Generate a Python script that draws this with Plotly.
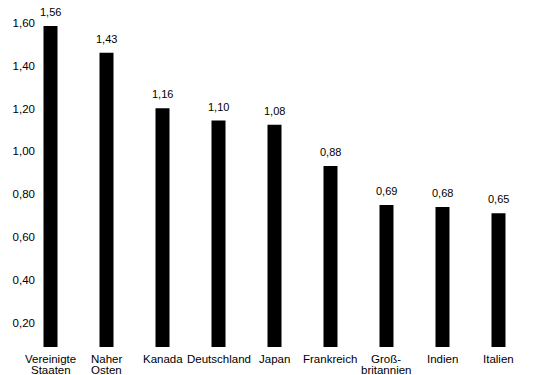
import plotly.graph_objects as go

categories = ["Vereinigte<br>Staaten", "Naher<br>Osten", "Kanada", "Deutschland", "Japan",
              "Frankreich", "Groß-<br>britannien", "Indien", "Italien"]
values = [1.56, 1.43, 1.16, 1.10, 1.08, 0.88, 0.69, 0.68, 0.65]
tick_values = [0.2, 0.4, 0.6, 0.8, 1.0, 1.2, 1.4, 1.6]

FONT = "Liberation Sans"
ids = list(range(len(categories)))

fig = go.Figure()
fig.add_trace(go.Bar(x=ids, y=values, marker=dict(color="#000000", line=dict(width=0)),
                     width=0.25, hoverinfo="skip", showlegend=False))
# invisible helper on the tick axis
fig.add_trace(go.Scatter(x=[ids[0]], y=[tick_values[0]], yaxis="y2", mode="markers",
                         marker=dict(opacity=0), hoverinfo="skip", showlegend=False))

annotations = []
for i, v in zip(ids, values):
    annotations.append(dict(x=i, y=v, xref="x", yref="y", text=f"{v:.2f}".replace(".", ","),
                            showarrow=False, yanchor="bottom", yshift=7, borderpad=0,
                            font=dict(family=FONT, size=11, color="#000")))
for i, c in zip(ids, categories):
    lines = c.split("<br>")
    for k, line in enumerate(lines):
        annotations.append(dict(x=i, y=0, xref="x", yref="paper", text=line,
                                showarrow=False, yanchor="middle", yshift=-12 - 10.5 * k,
                                borderpad=0,
                                font=dict(family=FONT, size=11.5, color="#000")))

fig.update_layout(
    width=533, height=367,
    margin=dict(l=28, r=6, t=2, b=28),
    paper_bgcolor="white", plot_bgcolor="white",
    separators=",.",
    font=dict(family=FONT, size=11.5, color="#000"),
    xaxis=dict(range=[-0.259, 8.652], showticklabels=False, showgrid=False,
               zeroline=False, showline=False, ticks=""),
    yaxis=dict(range=[0, 1.6375], showticklabels=False, showgrid=False,
               zeroline=False, showline=False, ticks=""),
    yaxis2=dict(range=[0.0881, 1.6592], overlaying="y", side="left",
                tickvals=tick_values, tickformat=".2f", showgrid=False,
                zeroline=False, showline=False, ticks="",
                tickfont=dict(family=FONT, size=11.5, color="#000")),
    annotations=annotations,
)

fig.write_html("out.html")
